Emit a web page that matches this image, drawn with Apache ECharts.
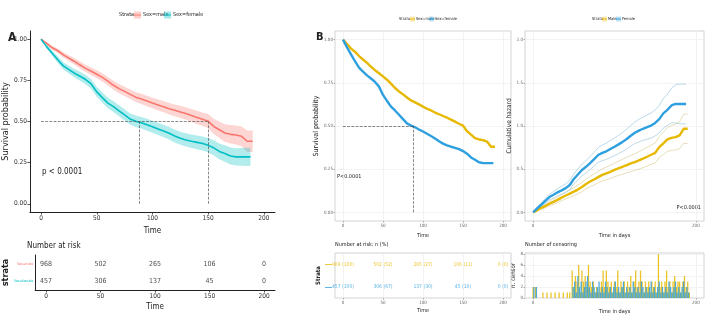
<!DOCTYPE html>
<html>
<head>
<meta charset="utf-8">
<script src="https://cdn.jsdelivr.net/npm/echarts@6/dist/echarts.min.js"></script>
<style>
  html, body { margin: 0; background: #fff; }
  #chart { width: 708px; height: 320px; }
</style>
</head>
<body>
<div id="chart"></div>
<script>
/** survival curves (time in days) */
const timeMale = [0,5,10,15,20,25,30,35,40,45,50,55,60,65,70,75,80,85,90,95,100,105,110,115,120,125,130,135,140,145,150,155,160,165,170,175,180,185,190];
const survMale = [1.00,0.975,0.948,0.93,0.905,0.885,0.865,0.843,0.823,0.805,0.787,0.768,0.745,0.72,0.70,0.683,0.665,0.648,0.637,0.625,0.612,0.600,0.590,0.578,0.568,0.558,0.548,0.537,0.525,0.513,0.502,0.47,0.45,0.43,0.422,0.418,0.41,0.38,0.38];
const ciMale = [0,0.008,0.012,0.014,0.016,0.018,0.02,0.021,0.022,0.023,0.024,0.025,0.026,0.027,0.028,0.028,0.029,0.03,0.031,0.032,0.032,0.033,0.034,0.035,0.036,0.037,0.038,0.039,0.04,0.041,0.043,0.046,0.05,0.054,0.056,0.058,0.06,0.065,0.065];

const timeFemale = [0,5,10,15,20,25,30,35,40,45,50,55,60,65,70,75,80,85,90,95,100,105,110,115,120,125,130,135,140,145,150,155,160,165,170,175,180,185,188];
const survFemale = [1.0,0.955,0.915,0.875,0.838,0.815,0.793,0.775,0.755,0.728,0.68,0.645,0.612,0.59,0.565,0.54,0.515,0.502,0.493,0.48,0.468,0.455,0.442,0.428,0.412,0.398,0.388,0.38,0.373,0.366,0.355,0.34,0.318,0.305,0.29,0.285,0.285,0.285,0.285];
const ciFemale = [0,0.012,0.016,0.02,0.022,0.024,0.026,0.027,0.028,0.029,0.03,0.031,0.032,0.033,0.033,0.034,0.034,0.035,0.035,0.036,0.036,0.037,0.038,0.038,0.039,0.04,0.04,0.041,0.042,0.043,0.044,0.046,0.048,0.05,0.052,0.053,0.054,0.055,0.055];

/** cumulative hazard */
const hazMale = [0,0.025,0.053,0.073,0.10,0.122,0.145,0.171,0.195,0.217,0.24,0.264,0.294,0.329,0.357,0.381,0.408,0.434,0.451,0.47,0.491,0.511,0.528,0.548,0.566,0.583,0.601,0.622,0.644,0.667,0.689,0.755,0.799,0.844,0.863,0.872,0.892,0.968,0.968];
const hazCiMale = [0,0.01,0.015,0.02,0.025,0.03,0.033,0.036,0.04,0.043,0.046,0.05,0.053,0.056,0.06,0.063,0.066,0.07,0.073,0.076,0.08,0.083,0.086,0.09,0.093,0.096,0.1,0.104,0.108,0.112,0.116,0.122,0.13,0.138,0.145,0.15,0.155,0.17,0.17];
const hazFemale = [0,0.046,0.089,0.134,0.177,0.204,0.232,0.255,0.281,0.317,0.386,0.439,0.491,0.528,0.571,0.616,0.664,0.689,0.707,0.734,0.759,0.787,0.816,0.849,0.887,0.921,0.947,0.968,0.986,1.005,1.036,1.079,1.146,1.187,1.238,1.255,1.255,1.255,1.255];
const hazCiFemale = [0,0.015,0.022,0.028,0.033,0.037,0.041,0.045,0.049,0.053,0.058,0.063,0.068,0.072,0.076,0.08,0.085,0.09,0.094,0.098,0.102,0.106,0.11,0.115,0.12,0.125,0.13,0.135,0.14,0.145,0.15,0.16,0.17,0.18,0.2,0.22,0.23,0.23,0.23];

/** medians */
const medianFemale = 88;
const medianMale = 150;

/** number at risk */
const strata = ["Sex=female", "Sex=male"];
const riskTimes = [0, 50, 100, 150, 200];
const riskMale = [968, 502, 265, 106, 0];
const riskFemale = [457, 306, 137, 45, 0];
const pctMale = [100, 52, 27, 11, 0];
const pctFemale = [100, 67, 30, 10, 0];

/** number of censored subjects */
const censorTimeMale = [0,3,12,17,22,27,32,37,42,45,48,50,52,54,56,58,60,62,64,66,68,70,72,74,76,78,80,82,84,86,88,90,92,94,96,98,100,102,104,106,108,110,112,114,116,118,120,122,124,126,128,130,132,134,136,138,140,142,144,146,148,150,152,154,156,158,160,162,164,166,168,170,172,174,176,178,180,182,184,186,188,190,192];
const censorMale = [2,2,1,1,1,1,1,1,1,1, 5,2,4,3,6,1,5,3,4,2, 6,3,2,3,1,2,1,2,3,5, 2,5,3,2,3,1,3,2,5,1, 3,2,3,1,3,2,4,1,3,5, 2,3,5,3,1,3,2,3,1,3, 2,3,1,8,2,3,1,3,5,2, 3,1,3,4,2,3,3,1,3,4, 2,3,1];
const censorTimeFemale = [1,4,49,51,53,55,57,59,61,63,65,67,69,71,73,75,77,79,81,83,85,87,89,91,93,95,97,99,101,103,105,107,109,111,113,115,117,119,121,123,125,127,129,131,133,135,137,139,141,143,145,147,149,151,153,155,157,159,161,163,165,167,169,171,173,175,177,179,181,183,185,187,189,191];
const censorFemale = [2,2, 2,3,1,4,2,3,1,2,3,4, 2,1,3,2,1,2,3,1,2,1, 3,2,1,2,1,2,3,1,2,1, 2,3,1,2,1,2,1,3,2,1, 2,1,3,2,1,2,1,2,3,1, 2,1,2,3,1,2,1,2,1,3, 2,1,2,3,1,2,1,2,3,1, 2,1];

/** tick values */
const timeTicks = [0, 50, 100, 150, 200];
const dayTicks = [0, 200];
const survTicks = [0, 0.25, 0.5, 0.75, 1];
const hazTicks = [0, 0.5, 1, 1.5, 2];
const censorTicks = [0, 2, 4, 6, 8];

const FONT = '"Liberation Sans Narrow", "DejaVu Sans Condensed", "Liberation Sans", Arial, sans-serif';
const RED = "#F8766D";
const CYAN = "#00BFC4";
const YEL = "#E7B800";
const BLU = "#2E9FDF";

const pairs = (xs, ys) => xs.map((x, i) => [x, ys[i]]);

/** value axis; light = grey gridded panel (B), else classic black axes (A) */
function valAxis(grid, min, max, ticks, name, light, nameGap, nameSize, fmt) {
  const c = light ? "#999" : "#222";
  return {
    type: "value", gridIndex: grid, min, max,
    name, nameLocation: "middle", nameGap,
    nameTextStyle: { fontSize: nameSize, color: "#222", fontFamily: FONT },
    axisLine: { show: !light, onZero: false, lineStyle: { color: c, width: 1 } },
    axisTick: { show: true, length: light ? 1.5 : 2.5, customValues: ticks, lineStyle: { color: c, width: 0.8 } },
    axisLabel: { customValues: ticks, fontSize: light ? 4.5 : 6.5, color: light ? "#666" : "#333",
      margin: light ? 2 : 3, fontFamily: FONT, formatter: fmt },
    splitLine: { show: light, lineStyle: { color: "#ebebeb", width: 0.6 } },
  };
}

function catAxis(grid, name, light, nameGap, nameSize, label) {
  return {
    type: "category", gridIndex: grid, data: strata,
    name, nameLocation: "middle", nameGap,
    nameTextStyle: { fontSize: nameSize, fontWeight: "bold", color: "#222", fontFamily: FONT },
    axisLine: { show: !light, onZero: false, lineStyle: { color: "#222" } },
    axisTick: { show: false },
    axisLabel: label,
    splitLine: { show: false },
  };
}

/** confidence band as one polygon, placed through the axes */
function band(axis, xs, mid, ci, fill) {
  return {
    type: "custom", xAxisIndex: axis, yAxisIndex: axis, silent: true, z: 1,
    data: [0],
    renderItem: (params, api) => {
      const upper = xs.map((x, i) => api.coord([x, mid[i] + ci[i]]));
      const lower = xs.map((x, i) => api.coord([x, mid[i] - ci[i]])).reverse();
      return { type: "polygon", shape: { points: upper.concat(lower) }, style: { fill } };
    },
  };
}

function curve(axis, xs, ys, color, width, extra) {
  return Object.assign({
    type: "line", xAxisIndex: axis, yAxisIndex: axis, symbol: "none", z: 3,
    silent: true, lineStyle: { color, width }, data: pairs(xs, ys),
  }, extra || {});
}

function ciLine(axis, xs, ys, ci, sign, color) {
  return {
    type: "line", xAxisIndex: axis, yAxisIndex: axis, symbol: "none", silent: true,
    lineStyle: { color, width: 0.8 },
    data: xs.map((x, i) => [x, ys[i] + sign * ci[i]]),
  };
}

function riskRow(axis, name, counts, pct, color, size) {
  return {
    type: "scatter", xAxisIndex: axis, yAxisIndex: axis, symbolSize: 1, silent: true,
    itemStyle: { color: "transparent" },
    data: riskTimes.map((t) => [t, name]),
    label: { show: true, position: "inside", fontSize: size, color, fontFamily: FONT,
      formatter: (p) => pct ? `${counts[p.dataIndex]} (${pct[p.dataIndex]})` : `${counts[p.dataIndex]}` },
  };
}

function censorBars(axis, xs, ys, color) {
  return {
    type: "bar", xAxisIndex: axis, yAxisIndex: axis, barWidth: 1.3, barGap: "-100%", silent: true,
    itemStyle: { color, opacity: 0.85 }, data: pairs(xs, ys),
  };
}

/** graphic helpers for texts and legend keys */
const txt = (x, y, text, size, extra) => ({
  type: "text", x, y, silent: true,
  style: Object.assign({ text, fontSize: size, fontFamily: FONT, fill: "#222", verticalAlign: "middle" }, extra || {}),
});
const key = (x, y, w, color, fill) => [
  { type: "rect", silent: true, shape: { x, y: y - w / 2, width: w, height: w }, style: { fill } },
  { type: "line", silent: true, shape: { x1: x, y1: y, x2: x + w, y2: y }, style: { stroke: color, lineWidth: 1 } },
];

const f2 = (v) => v.toFixed(2);
const f1 = (v) => v.toFixed(1);
const dash = { fontSize: 7, fontWeight: "bold", margin: 3, formatter: "\u2014",
  color: (v) => (v === "Sex=male" ? YEL : BLU) };
const medianStyle = { color: "#555", width: 0.7, type: "dashed" };

const option = {
  backgroundColor: "#fff",
  animation: false,
  grid: [
    { left: 27, top: 31, width: 248, height: 181 },
    { left: 27, top: 255, width: 248, height: 35 },
    { left: 335, top: 31, width: 176, height: 190, show: true, borderColor: "#c8c8c8", borderWidth: 0.8 },
    { left: 335, top: 253, width: 176, height: 45, show: true, borderColor: "#c8c8c8", borderWidth: 0.8 },
    { left: 525, top: 31, width: 179, height: 190, show: true, borderColor: "#c8c8c8", borderWidth: 0.8 },
    { left: 525, top: 253, width: 179, height: 45, show: true, borderColor: "#c8c8c8", borderWidth: 0.8 },
  ],
  xAxis: [
    valAxis(0, -10, 210, timeTicks, "Time", false, 13, 8),
    valAxis(1, -10, 210, timeTicks, "Time", false, 13, 8),
    valAxis(2, -10, 210, timeTicks, "Time", true, 10, 5.5),
    valAxis(3, -10, 210, timeTicks, "Time", true, 10, 5.5),
    valAxis(4, -10, 210, dayTicks, "Time in days", true, 10, 5.5),
    valAxis(5, -10, 210, dayTicks, "Time in days", true, 11, 5.5),
  ],
  yAxis: [
    valAxis(0, -0.05, 1.05, survTicks, "Survival probability", false, 16, 9, f2),
    catAxis(1, "strata", false, 15, 9, {
      fontSize: 3.5, margin: 2, fontFamily: FONT,
      color: (v) => (v === "Sex=male" ? RED : CYAN),
    }),
    valAxis(2, -0.05, 1.05, survTicks, "Survival probability", true, 9, 7, f2),
    catAxis(3, "Strata", true, 10, 6, dash),
    valAxis(4, -0.1, 2.1, hazTicks, "Cumulative hazard", true, 5, 6.5, f1),
    valAxis(5, 0, 8.2, censorTicks, "n. censor", true, 6, 6),
  ],
  series: [
    /** A: survival with confidence bands */
    band(0, timeMale, survMale, ciMale, "rgba(248,118,109,0.3)"),
    band(0, timeFemale, survFemale, ciFemale, "rgba(0,191,196,0.3)"),
    curve(0, timeMale, survMale, RED, 1.6),
    curve(0, timeFemale, survFemale, CYAN, 1.6, {
      markLine: {
        symbol: "none", silent: true, label: { show: false }, lineStyle: medianStyle,
        data: [
          [{ coord: [0, 0.5] }, { coord: [medianMale, 0.5] }],
          [{ coord: [medianFemale, 0] }, { coord: [medianFemale, 0.5] }],
          [{ coord: [medianMale, 0] }, { coord: [medianMale, 0.5] }],
        ],
      },
    }),
    riskRow(1, "Sex=male", riskMale, null, "#222", 7),
    riskRow(1, "Sex=female", riskFemale, null, "#222", 7),

    /** B: survival */
    curve(2, timeMale, survMale, YEL, 2.4),
    curve(2, timeFemale, survFemale, BLU, 2.4, {
      markLine: {
        symbol: "none", silent: true, label: { show: false }, lineStyle: medianStyle,
        data: [
          [{ coord: [0, 0.5] }, { coord: [medianFemale, 0.5] }],
          [{ coord: [medianFemale, 0] }, { coord: [medianFemale, 0.5] }],
        ],
      },
    }),
    riskRow(3, "Sex=male", riskMale, pctMale, YEL, 5),
    riskRow(3, "Sex=female", riskFemale, pctFemale, BLU, 5),

    /** B: cumulative hazard */
    ciLine(4, timeMale, hazMale, hazCiMale, 1, "rgba(214,200,140,0.75)"),
    ciLine(4, timeMale, hazMale, hazCiMale, -1, "rgba(214,200,140,0.75)"),
    ciLine(4, timeFemale, hazFemale, hazCiFemale, 1, "rgba(150,195,220,0.8)"),
    ciLine(4, timeFemale, hazFemale, hazCiFemale, -1, "rgba(150,195,220,0.8)"),
    curve(4, timeMale, hazMale, YEL, 2.4),
    curve(4, timeFemale, hazFemale, BLU, 2.4),

    /** B: censoring counts */
    censorBars(5, censorTimeMale, censorMale, YEL),
    censorBars(5, censorTimeFemale, censorFemale, BLU),
  ],
  graphic: [
    txt(8, 38, "A", 12, { fontWeight: "bold" }),
    txt(316, 37, "B", 11, { fontWeight: "bold" }),
    txt(42, 172, "p < 0.0001", 8),
    txt(337, 177, "P<0.0001", 5.5),
    txt(701, 208, "P<0.0001", 5.5, { align: "right" }),
    txt(27, 246, "Number at risk", 8),
    txt(335, 245, "Number at risk: n (%)", 5.5),
    txt(525, 245, "Number of censoring", 5.5),
    /** legends */
    txt(119, 15, "Strata", 5.5),
    ...key(134, 15, 7, RED, "rgba(248,118,109,0.35)"),
    txt(143, 15, "Sex=male", 5.5),
    ...key(164, 15, 7, CYAN, "rgba(0,191,196,0.35)"),
    txt(173, 15, "Sex=female", 5.5),
    txt(399, 19, "Strata", 4),
    ...key(410, 19, 5, YEL, "rgba(231,184,0,0.3)"),
    txt(416, 19, "Sex=male", 4),
    ...key(429, 19, 5, BLU, "rgba(46,159,223,0.3)"),
    txt(435, 19, "Sex=female", 4),
    txt(592, 19, "Strata", 4),
    ...key(602, 19, 5, YEL, "rgba(231,184,0,0.3)"),
    txt(608, 19, "Male", 4),
    ...key(616, 19, 5, BLU, "rgba(46,159,223,0.3)"),
    txt(622, 19, "Female", 4),
  ],
};

const chart = echarts.init(document.getElementById("chart"));
chart.setOption(option);
</script>
</body>
</html>
